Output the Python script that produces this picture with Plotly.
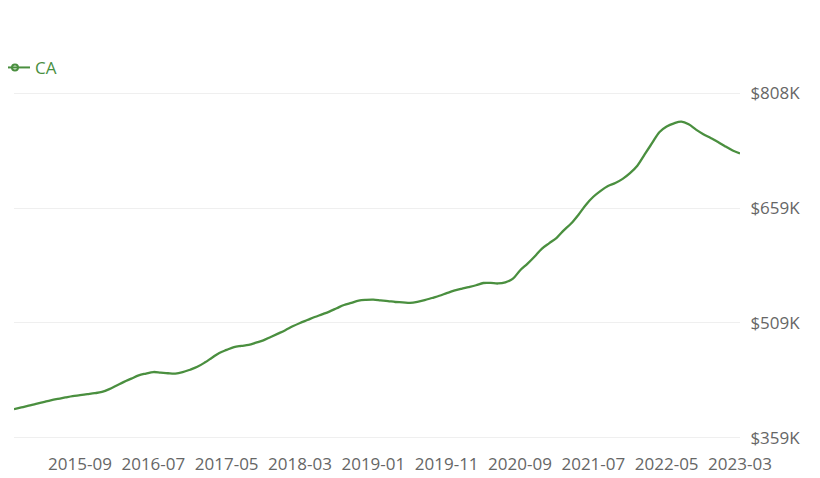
import plotly.graph_objects as go

# Monthly categories 2014-12 .. 2023-03
months = []
y, m = 2014, 12
for _ in range(100):
    months.append(f"{y:04d}-{m:02d}")
    m += 1
    if m > 12:
        m = 1
        y += 1

# CA median home value, thousands of dollars
ca_values = [
    396.5, 398.7, 401.0, 403.4, 405.6, 407.8, 409.8, 411.7, 413.5, 414.6,
    415.9, 417.2, 419.0, 422.6, 427.3, 432.0, 436.2, 440.5, 442.8, 444.8,
    444.0, 443.2, 442.8, 444.6, 447.8, 451.6, 457.1, 463.4, 469.7, 473.6,
    477.3, 478.8, 480.1, 483.0, 486.1, 490.4, 494.8, 499.3, 504.3, 508.7,
    512.5, 516.4, 519.9, 523.5, 527.8, 532.1, 534.9, 537.7, 538.7, 539.0,
    538.1, 537.2, 536.0, 535.6, 534.8, 536.0, 538.3, 541.2, 544.1, 547.5,
    550.7, 553.2, 555.4, 557.8, 560.7, 560.8, 560.1, 561.6, 566.0, 577.0,
    585.6, 595.2, 605.6, 612.7, 619.6, 629.6, 638.5, 650.0, 662.7, 673.0,
    680.7, 687.0, 690.9, 696.3, 703.7, 713.4, 728.2, 742.7, 757.1, 764.5,
    768.6, 770.8, 767.3, 760.4, 754.5, 749.5, 744.3, 738.5, 733.3, 729.3,
]

y_tick_vals = [359, 508.67, 658.33, 808]
y_tick_text = ["$359K", "$509K", "$659K", "$808K"]
x_tick_labels = [months[i] for i in range(9, 100, 10)]

green = "#4a8f3f"

fig = go.Figure()
fig.add_trace(go.Scatter(
    x=months, y=ca_values, mode="lines", name="CA",
    line=dict(color=green, width=2.3, shape="spline", smoothing=1.0),
    showlegend=False,
))
fig.add_trace(go.Scatter(
    x=[None], y=[None], mode="lines+markers", name="CA",
    line=dict(color=green, width=2),
    marker=dict(symbol="circle-open", size=6, color=green, line=dict(width=2)),
    showlegend=True,
))

# page body has an 8px margin, so the figure is 812x470 and offsets are reduced
fig.update_layout(
    width=812, height=470,
    margin=dict(l=6, r=80, t=82, b=37, autoexpand=False),
    paper_bgcolor="white", plot_bgcolor="white",
    font=dict(family="Open Sans, sans-serif", size=17, color="#666666"),
    legend=dict(x=-0.0262, y=1.063, xanchor="left", yanchor="middle",
                orientation="h", itemwidth=30,
                font=dict(color=green, size=17),
                bgcolor="rgba(0,0,0,0)"),
    xaxis=dict(
        type="category", tickmode="array", tickvals=x_tick_labels,
        ticktext=x_tick_labels, showgrid=False, zeroline=False,
        showline=False, ticks="outside", ticklen=8, tickcolor="rgba(0,0,0,0)",
        range=[0, 99], automargin=False,
        tickfont=dict(size=17, color="#666666"),
    ),
    yaxis=dict(
        side="right", range=[355, 812], tickvals=y_tick_vals,
        ticktext=y_tick_text, showgrid=True, gridcolor="#efefef",
        gridwidth=1, zeroline=False, showline=False,
        ticks="outside", ticklen=6, tickcolor="rgba(0,0,0,0)",
        automargin=False,
        tickfont=dict(size=17, color="#666666"),
    ),
)

fig.write_html("out.html")
